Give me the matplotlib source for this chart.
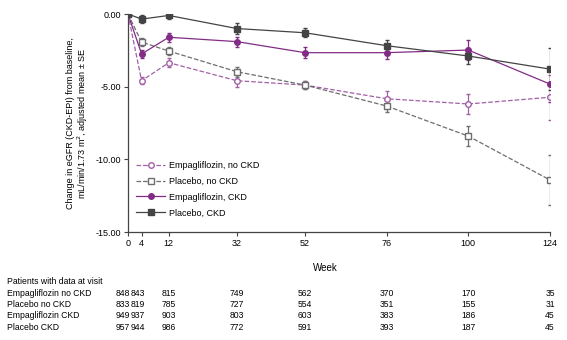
import matplotlib.pyplot as plt
from matplotlib.transforms import blended_transform_factory

plt.rcParams['font.family'] = ['Liberation Sans', 'DejaVu Sans']

weeks = [0, 4, 12, 32, 52, 76, 100, 124]

empa_nockd = [0, -4.59, -3.35, -4.59, -4.89, -5.83, -6.19, -5.73]
empa_nockd_se = [0, 0.25, 0.3, 0.4, 0.3, 0.5, 0.72, 1.55]
pbo_nockd = [0, -1.93, -2.55, -3.97, -4.89, -6.33, -8.40, -11.42]
pbo_nockd_se = [0, 0.25, 0.3, 0.35, 0.3, 0.42, 0.7, 1.75]
empa_ckd = [0, -2.75, -1.6, -1.9, -2.66, -2.66, -2.48, -4.82]
empa_ckd_se = [0, 0.3, 0.3, 0.35, 0.4, 0.45, 0.7, 1.2]
pbo_ckd = [0, -0.35, -0.1, -1.0, -1.29, -2.18, -2.89, -3.79]
pbo_ckd_se = [0, 0.3, 0.25, 0.37, 0.3, 0.4, 0.55, 1.42]

row_labels = ['Empagliflozin no CKD', 'Placebo no CKD', 'Empagliflozin CKD', 'Placebo CKD']
n_at_visit = [
    [848, 843, 815, 749, 562, 370, 170, 35],
    [833, 819, 785, 727, 554, 351, 155, 31],
    [949, 937, 903, 803, 603, 383, 186, 45],
    [957, 944, 986, 772, 591, 393, 187, 45],
]
# x positions for the count columns (first two are squeezed apart)
count_x = [-1.5, 2.8, 12, 32, 52, 76, 100, 124]

purple = '#832c86'
light_purple = '#a260a6'
dark = '#444444'
grey = '#6e6e6e'

fig = plt.figure(figsize=(5.67, 3.4), dpi=100)
ax = fig.add_axes([0.2257, 0.3176, 0.7443, 0.6412])

series = [
    (empa_nockd, empa_nockd_se, light_purple, '--', 'o', 'white', 'Empagliflozin, no CKD'),
    (pbo_nockd, pbo_nockd_se, grey, '--', 's', 'white', 'Placebo, no CKD'),
    (empa_ckd, empa_ckd_se, purple, '-', 'o', purple, 'Empagliflozin, CKD'),
    (pbo_ckd, pbo_ckd_se, dark, '-', 's', dark, 'Placebo, CKD'),
]
handles = []
for vals, se, col, ls, mk, fc, lab in series:
    c = ax.errorbar(weeks, vals, yerr=se, color=col, ls=ls, lw=0.9, marker=mk, ms=4,
                    mfc=fc, mec=col, capsize=1.5, elinewidth=0.9, label=lab,
                    zorder=4 if ls == '-' else 3)
    handles.append(c.lines[0])

ax.set_xlim(0, 124)
ax.set_ylim(-15, 0)
ax.set_xticks(weeks)
ax.set_yticks([0, -5, -10, -15])
ax.set_yticklabels(['0.00', '-5.00', '-10.00', '-15.00'])
ax.tick_params(labelsize=6.5, length=3, width=0.8, color='#444444', pad=2)
for s in ['top', 'right']:
    ax.spines[s].set_visible(False)
for s in ['left', 'bottom']:
    ax.spines[s].set_color('#444444')
    ax.spines[s].set_linewidth(0.9)

ax.set_ylabel('Change in eGFR (CKD-EPI) from baseline,\nmL/min/1.73 m$^2$, adjusted mean \u00b1 SE',
              fontsize=6.5, labelpad=4, linespacing=1.1)

ax.legend(handles=handles, labels=[s[-1] for s in series], loc='lower left',
          bbox_to_anchor=(0.0, 0.03), frameon=False, fontsize=6.5,
          handlelength=3.2, labelspacing=0.75, handletextpad=0.5)

fig.text(325 / 567, 1 - 268 / 340, 'Week', fontsize=7, ha='center', va='center')

tr = blended_transform_factory(ax.transData, fig.transFigure)
tfs = 6.2
fig.text(7 / 567, 1 - 282 / 340, 'Patients with data at visit', fontsize=tfs, va='center')
for i, (lab, counts) in enumerate(zip(row_labels, n_at_visit)):
    yy = 1 - (293.5 + i * 11.2) / 340
    fig.text(7 / 567, yy, lab, fontsize=tfs, va='center')
    for xx, n in zip(count_x, counts):
        ax.text(xx, yy, str(n), transform=tr, fontsize=tfs, ha='center', va='center',
                clip_on=False)

fig.savefig('out.png', dpi=100)
